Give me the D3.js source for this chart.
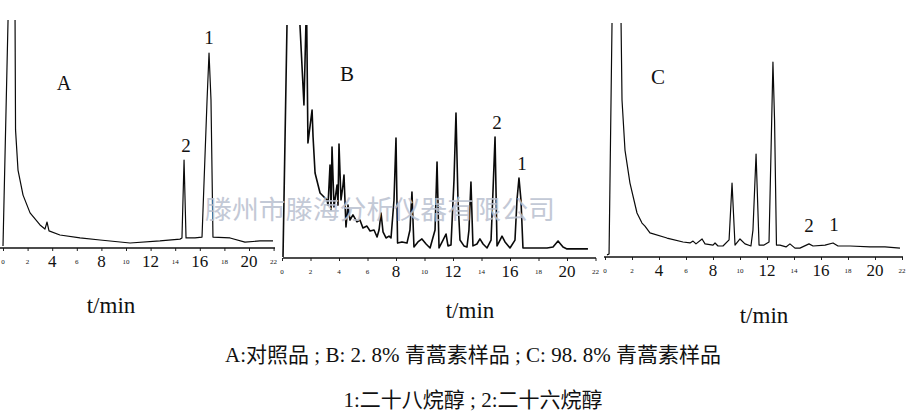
<!DOCTYPE html>
<html><head><meta charset="utf-8">
<script src="https://cdn.jsdelivr.net/npm/d3@7/dist/d3.min.js"></script>
<style>
html,body{margin:0;padding:0;background:#fff;}
svg{display:block;}
.serif{font-family:"Liberation Serif","DejaVu Serif","Times New Roman",serif;}
.cjk{font-family:"Noto Sans CJK SC","Noto Sans CJK TC",sans-serif;}
</style></head>
<body>
<svg id="chart" width="912" height="420"></svg>
<script>
// ---------------- DATA ----------------
const tickValues = [0,2,4,6,8,10,12,14,16,18,20,22];
const majorTicksA = [4,8,12,16,20];
const majorTicksB = [8,12,16,20];
const majorTicksC = [4,8,12,16,20];

// Panel A: reference standard
const timeA = [0,0.41,0.65,0.98,1.02,1.22,1.63,2.2,3.01,3.41,3.58,3.74,4.63,6.26,7.89,10.33,12.76,14.39,14.55,14.72,14.88,15.61,16.18,16.59,16.75,16.91,17.07,18.46,19.67,20.89,21.95];
const signalA = [0.9,100,159,100,51.8,34.2,23.2,15.4,10.1,8.3,11.4,7.5,5.7,4.4,3.5,2.2,3.1,3.9,4.4,38.6,4.4,4.4,4.8,64.9,85.5,64.9,4.8,4.4,2.6,3.1,3.1];

// Panel B: 2.8% artemisinin sample
const timeB = [0.07,0.35,0.56,1.26,1.54,1.72,1.82,2.11,2.18,2.32,2.67,3.16,3.23,3.37,3.44,3.51,3.65,3.86,3.93,4.0,4.14,4.28,4.35,4.49,4.63,4.77,4.98,5.26,5.47,5.68,5.96,6.18,6.46,6.67,6.81,6.95,7.09,7.3,7.51,7.65,7.86,8.0,8.11,8.42,8.77,8.98,9.12,9.26,9.54,9.82,10.11,10.39,10.74,10.88,11.02,11.3,11.51,11.65,11.86,12.07,12.21,12.35,12.49,12.77,12.98,13.12,13.26,13.4,13.68,13.89,14.11,14.39,14.67,14.81,14.95,15.09,15.3,15.44,15.65,16.0,16.35,16.49,16.63,16.77,16.91,17.75,18.6,19.02,19.37,19.72,20.0,21.47];
const signalB = [0.4,100,175,100,65.7,110.7,49.4,63.5,51.9,36.5,27.9,24.9,22.7,39.9,20.6,47.6,21.9,31.3,22.7,48.9,24.9,31.3,35.6,13.3,22.7,16.3,18.5,15.5,16.3,12.9,13.7,11.6,12.0,9.0,12.0,19.3,11.2,8.6,9.4,8.6,24.9,51.5,6.4,6.9,6.4,12.0,28.3,4.7,6.9,8.2,6.0,4.3,12.0,41.2,4.3,7.7,10.3,5.2,5.6,33.5,62.2,24.9,7.7,5.2,4.7,12.0,32.6,5.2,6.0,8.2,6.0,4.3,7.7,29.2,51.9,5.2,7.7,9.4,6.9,4.3,7.7,24.9,34.3,24.9,4.3,4.3,4.3,4.7,7.3,4.7,3.9,3.9];

// Panel C: 98.8% artemisinin sample
const timeC = [0.15,0.3,0.52,0.81,1.19,1.26,1.48,1.85,2.37,2.74,2.96,3.33,4.59,5.78,6.3,6.52,6.74,7.19,7.41,8.0,8.15,8.37,8.74,9.19,9.41,9.63,10.0,10.37,10.81,10.96,11.19,11.41,11.78,12.15,12.3,12.44,12.56,12.7,12.96,13.41,13.7,14.07,14.44,15.11,15.41,16.3,16.89,17.26,18.15,19.63,20.74,21.85];
const signalC = [0.9,1.3,100,161,100,67.1,45.7,31.6,18.8,14.5,13.2,10.3,8.1,6.4,6.0,6.8,5.6,7.7,5.6,5.1,6.0,4.7,4.7,7.3,31.6,5.1,7.7,5.6,4.7,11.5,44.0,5.1,5.1,6.4,45.7,83.3,58.5,5.1,5.1,4.3,5.6,3.8,3.8,5.6,4.7,5.1,6.0,4.7,4.7,4.3,4.3,3.8];

// Peak annotations (1: octacosanol, 2: hexacosanol)
const peakNamesA = ["2","1"], peakTimesA = [14.72,16.75], peakHeightsA = [38.6,85.5];
const peakNamesB = ["2","1"], peakTimesB = [14.95,16.63], peakHeightsB = [51.9,34.3];
const peakNamesC = ["2","1"], peakTimesC = [15.11,16.89], peakHeightsC = [5.6,6.0];

const panelLetters = ["A","B","C"];
const axisTitle = "t/min";
const captionLine1 = "A:对照品 ; B: 2. 8% 青蒿素样品 ; C: 98. 8% 青蒿素样品";
const captionLine2 = "1:二十八烷醇 ; 2:二十六烷醇";
const watermark = "滕州市滕海分析仪器有限公司";

// ---------------- DRAWING ----------------
const svg = d3.select("#chart");

const panels = [
  {id:"A", time:timeA, sig:signalA, major:majorTicksA, names:peakNamesA, pt:peakTimesA, ph:peakHeightsA,
   x0:3, ppm:12.3, axisY:248, top:20, axL:0, axR:275, lw:1.2, letterPos:[64,90], letterSize:20,
   labelOff:[[2,-8],[0,-9]], titlePos:[111,313], titleSize:23},
  {id:"B", time:timeB, sig:signalB, major:majorTicksB, names:peakNamesB, pt:peakTimesB, ph:peakHeightsB,
   x0:282, ppm:14.25, axisY:258, top:25, axL:283, axR:596, lw:1.6, letterPos:[347,81], letterSize:21,
   labelOff:[[2,-8],[3,-8]], titlePos:[470,318], titleSize:23},
  {id:"C", time:timeC, sig:signalC, major:majorTicksC, names:peakNamesC, pt:peakTimesC, ph:peakHeightsC,
   x0:605, ppm:13.5, axisY:257, top:23, axL:604, axR:903, lw:1.2, letterPos:[658,84], letterSize:21,
   labelOff:[[0,-12],[1,-12]], titlePos:[764,323], titleSize:23}
];

panels.forEach((p,i) => {
  const x = d3.scaleLinear().domain([0,22]).range([p.x0, p.x0 + 22*p.ppm]);
  const y = d3.scaleLinear().domain([0,100]).range([p.axisY, p.top]);
  const g = svg.append("g");

  const clipId = "clip"+p.id;
  svg.append("clipPath").attr("id", clipId).append("rect")
    .attr("x", p.axL - 5).attr("y", p.top).attr("width", p.axR - p.axL + 10).attr("height", p.axisY - p.top + 5);

  // axis ticks
  const axis = d3.axisBottom(x).tickValues(tickValues).tickSize(3).tickFormat("");
  const ag = g.append("g").attr("transform", `translate(0,${p.axisY})`).call(axis);
  ag.select(".domain").remove();
  ag.selectAll("line").attr("stroke","#222").attr("stroke-width",1);
  g.append("line").attr("x1",p.axL).attr("x2",p.axR).attr("y1",p.axisY).attr("y2",p.axisY)
    .attr("stroke","#111").attr("stroke-width",1.3);

  // tick labels
  g.selectAll("text.tl").data(tickValues).join("text")
    .attr("class","serif")
    .attr("x", d => x(d)).attr("y", d => p.major.includes(d) ? p.axisY + 19 : p.axisY + 16)
    .attr("text-anchor","middle")
    .style("font-size", d => (p.major.includes(d) ? 17 : 7) + "px")
    .attr("fill","#111")
    .text(d => d);

  // trace
  const line = d3.line().x((d,k) => x(p.time[k])).y(d => y(d));
  g.append("path").datum(p.sig).attr("clip-path", `url(#${clipId})`)
    .attr("d", line).attr("fill","none").attr("stroke","#0a0a0a")
    .attr("stroke-width", p.lw).attr("stroke-linejoin","round");

  // peak labels
  p.names.forEach((n,k) => {
    g.append("text").attr("class","serif")
      .attr("x", x(p.pt[k]) + p.labelOff[k][0]).attr("y", y(p.ph[k]) + p.labelOff[k][1])
      .attr("text-anchor","middle").style("font-size","19px").attr("fill","#111").text(n);
  });

  // panel letter
  g.append("text").attr("class","serif").attr("x", p.letterPos[0]).attr("y", p.letterPos[1]).attr("text-anchor","middle")
    .style("font-size",p.letterSize+"px").attr("fill","#111").text(panelLetters[i]);

  // axis title
  g.append("text").attr("class","serif").attr("x", p.titlePos[0]).attr("y", p.titlePos[1]).attr("text-anchor","middle")
    .style("font-size",p.titleSize+"px").attr("fill","#111").text(axisTitle);
});

// watermark
svg.append("text").attr("class","cjk").attr("x", 380).attr("y", 219).attr("text-anchor","middle")
  .style("font-size","26px").attr("fill","#b9c0cf").attr("opacity",0.85)
  .attr("textLength", 350).attr("lengthAdjust","spacingAndGlyphs")
  .text(watermark);

// captions (centred)
function mixedText(sel, str, x, y, size){
  const t = sel.append("text").attr("x",x).attr("y",y).attr("text-anchor","middle")
    .style("font-size",size+"px").attr("fill","#111");
  const parts = str.match(/[\u3000-\u9fff]+|[^\u3000-\u9fff]+/g);
  parts.forEach(s => {
    t.append("tspan").attr("class", /[\u3000-\u9fff]/.test(s) ? "cjk" : "serif").text(s);
  });
  return t;
}
mixedText(svg, captionLine1, 473, 362, 21);
mixedText(svg, captionLine2, 473, 407, 21);
</script>
</body></html>
